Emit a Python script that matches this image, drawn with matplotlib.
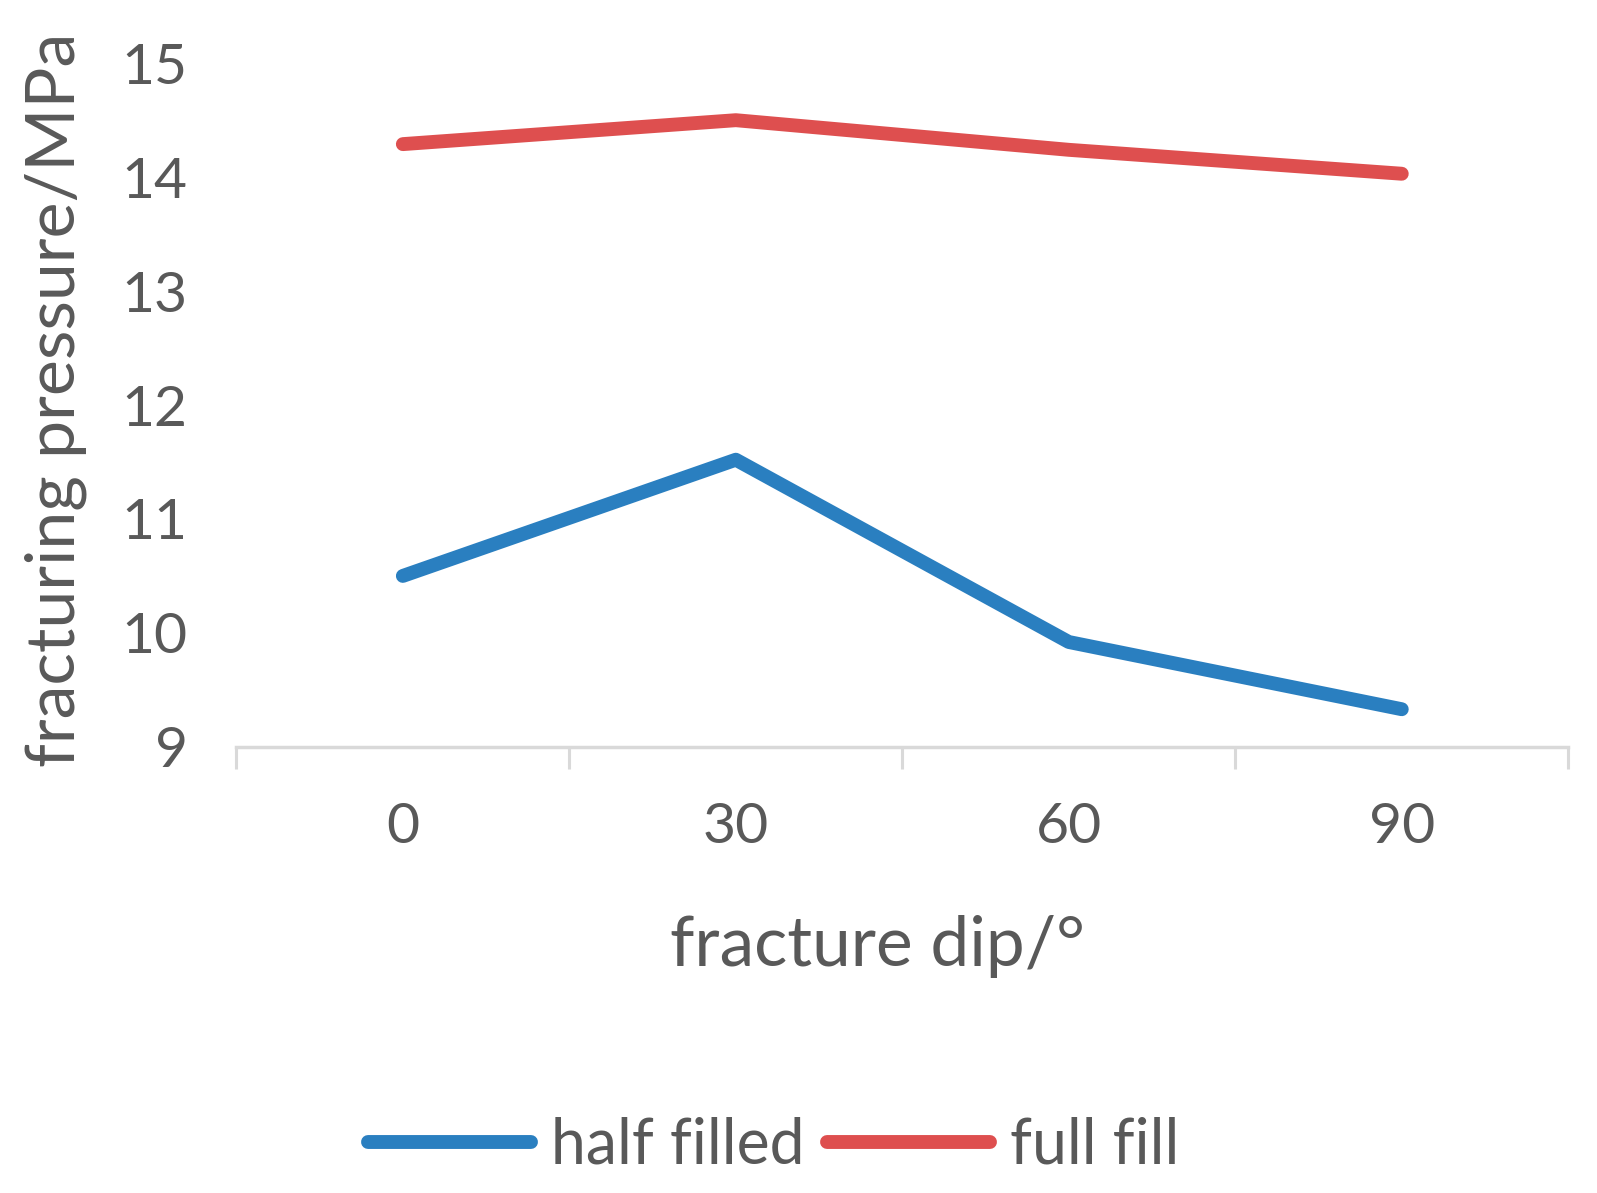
import matplotlib
matplotlib.use("Agg")
import matplotlib.pyplot as plt
from matplotlib.ticker import FixedLocator

categories = ["0", "30", "60", "90"]
half_filled = [10.5, 11.52, 9.92, 9.33]
full_fill = [14.29, 14.5, 14.24, 14.03]
yticks = [9, 10, 11, 12, 13, 14, 15]

plt.rcParams['font.family'] = ['Lato', 'DejaVu Sans']
text_color = '#595959'
axis_color = '#d9d9d9'

fig = plt.figure(figsize=(15.97, 11.93), dpi=100)
ax = fig.add_axes([0.148, 0.374, 0.834, 0.573])

x = list(range(len(categories)))
l1, = ax.plot(x, half_filled, color='#2a7fc0', lw=10, solid_joinstyle='round',
              solid_capstyle='round', label='half filled')
l2, = ax.plot(x, full_fill, color='#de4f4f', lw=10, solid_joinstyle='round',
              solid_capstyle='round', label='full fill')

ax.set_xlim(-0.5, len(categories) - 0.5)
ax.set_ylim(9, 15)
ax.set_yticks(yticks)
ax.set_yticklabels([str(v) for v in yticks])

ax.set_xticks(x)
ax.set_xticklabels(categories)
ax.xaxis.set_minor_locator(FixedLocator([i - 0.5 for i in range(len(categories) + 1)]))
ax.tick_params(axis='x', which='major', length=0, pad=40, labelsize=41, labelcolor=text_color)
ax.tick_params(axis='x', which='minor', length=16, width=2.2, color=axis_color, direction='out')
ax.tick_params(axis='y', length=0, pad=35, labelsize=41, labelcolor=text_color)

for s in ['top', 'right', 'left']:
    ax.spines[s].set_visible(False)
ax.spines['bottom'].set_color(axis_color)
ax.spines['bottom'].set_linewidth(2.5)

fig.text(877 / 1597, 1 - 947 / 1193, 'fracture dip/°', ha='center', va='center',
         fontsize=50, color=text_color)
fig.text(56 / 1597, 1 - 400 / 1193, 'fracturing pressure/MPa', ha='center', va='center',
         rotation=90, fontsize=49, color=text_color)

fig.legend(handles=[l1, l2], loc='center', bbox_to_anchor=(774 / 1597, 1 - 1146 / 1193),
           ncol=2, frameon=False, fontsize=45, labelcolor=text_color,
           handlelength=2.6, handletextpad=0.33, columnspacing=0.36)

fig.savefig('out.png', dpi=100)
